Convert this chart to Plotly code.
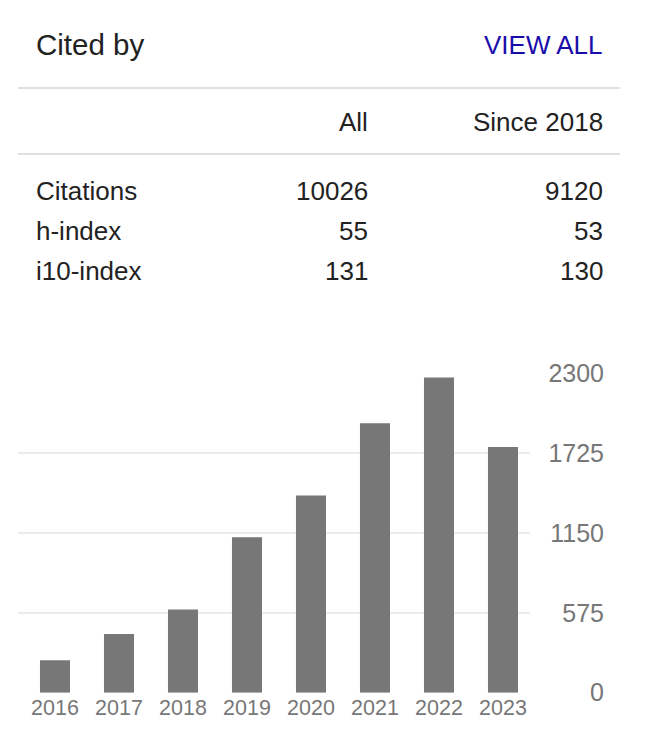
import plotly.graph_objects as go

W, H = 664, 748
OFF = 8  # page body margin in the browser

years = ["2016", "2017", "2018", "2019", "2020", "2021", "2022", "2023"]
citations_per_year = [234, 422, 600, 1120, 1420, 1940, 2270, 1770]
y_ticks = [0, 575, 1150, 1725, 2300]

title_text = "Cited by"
link_text = "VIEW ALL"
col_headers = ["All", "Since 2018"]
row_labels = ["Citations", "h-index", "i10-index"]
all_values = ["10026", "55", "131"]
since_values = ["9120", "53", "130"]

FONT = "Liberation Sans, Arial, Helvetica, sans-serif"


def px(x):
    return (x - OFF) / W


def py(y):
    return 1 - (y - OFF) / H


fig = go.Figure()
fig.add_trace(go.Bar(
    x=years, y=citations_per_year,
    marker=dict(color="#777777", line=dict(width=0)),
    width=0.469,
    hoverinfo="x+y",
))

annotations = []


def note(x, y, text, anchor, size=26, color="#222222"):
    annotations.append(dict(x=px(x), y=py(y), xref="paper", yref="paper",
                            text=text, showarrow=False,
                            xanchor=anchor, yanchor="middle",
                            font=dict(family=FONT, size=size, color=color)))


note(34, 45, title_text, "left", size=29.5)
note(605, 45, link_text, "right", size=26, color="#1a0dab")
note(370, 122, col_headers[0], "right")
note(605, 122, col_headers[1], "right")
for i, (lab, a, s) in enumerate(zip(row_labels, all_values, since_values)):
    yy = 191 + 40 * i
    note(34, yy, lab, "left")
    note(370, yy, a, "right")
    note(605, yy, s, "right")

shapes = [
    dict(type="line", xref="paper", yref="paper", x0=px(18), x1=px(620),
         y0=py(88), y1=py(88), line=dict(color="#e0e0e0", width=2)),
    dict(type="line", xref="paper", yref="paper", x0=px(18), x1=px(620),
         y0=py(154), y1=py(154), line=dict(color="#e0e0e0", width=2)),
]

fig.update_layout(
    width=W, height=H,
    margin=dict(l=0, r=0, t=0, b=0, pad=0),
    paper_bgcolor="white", plot_bgcolor="white",
    showlegend=False,
    annotations=annotations,
    shapes=shapes,
    xaxis=dict(
        domain=[px(18), px(530)],
        type="category",
        range=[-0.578, 7.422],
        showgrid=False, zeroline=False, showline=False, ticks="",
        tickfont=dict(family=FONT, size=21.5, color="#777777"),
        ticklabelstandoff=0,
        automargin=False,
        fixedrange=True,
    ),
    yaxis=dict(
        domain=[py(692.7), py(373.3)],
        range=[0, 2300],
        anchor="free", position=px(604), side="left",
        tickvals=y_ticks,
        ticktext=[str(v) for v in y_ticks],
        showgrid=True, gridcolor="#ececec", gridwidth=2,
        zeroline=False, showline=False, ticks="",
        tickfont=dict(family=FONT, size=25, color="#777777"),
        ticklabelstandoff=0,
        automargin=False,
        fixedrange=True,
    ),
)

fig.write_html("out.html", config={"displayModeBar": False})
